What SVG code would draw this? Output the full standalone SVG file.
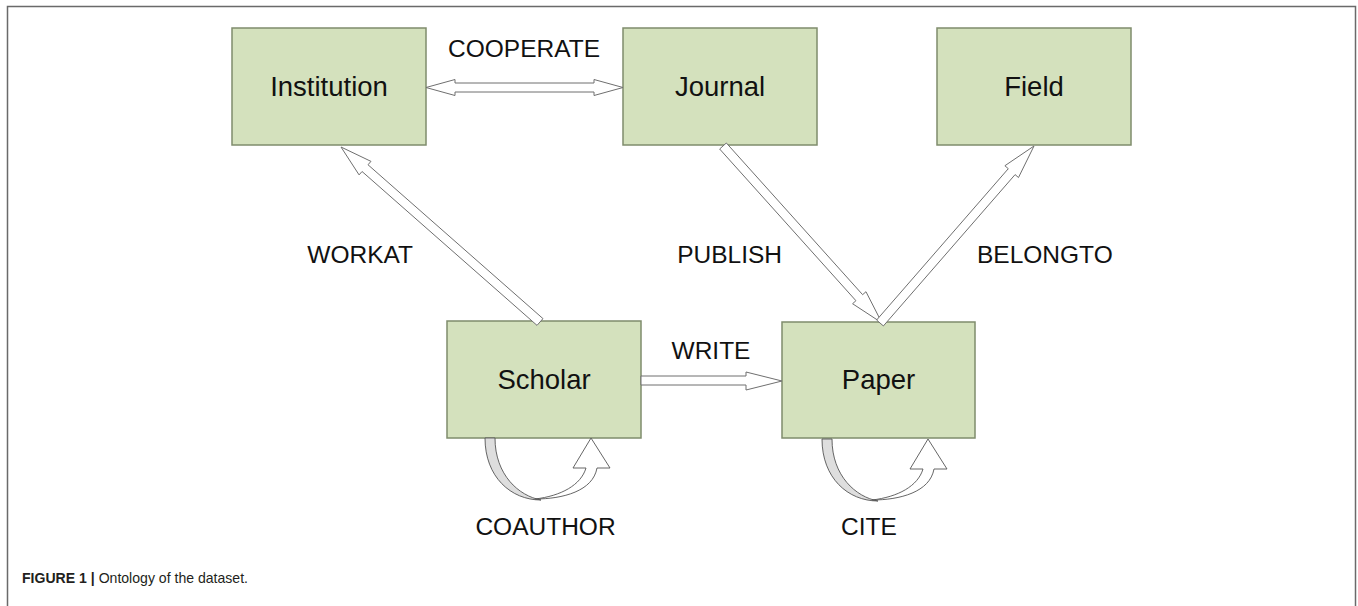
<svg xmlns="http://www.w3.org/2000/svg" width="1358" height="606" viewBox="0 0 1358 606">
<style>
.node rect{fill:#d4e1bd;stroke:#7f8c6c;stroke-width:1.5}
.node text{font-family:"Liberation Sans",Arial,sans-serif;font-size:27.5px;fill:#111;text-anchor:middle}
.lbl{font-family:"Liberation Sans",Arial,sans-serif;font-size:24.5px;fill:#111}
.arr{fill:#fff;stroke:#6f6f6f;stroke-width:1}
.back{fill:#dedede;stroke:#555;stroke-width:0.9}
.front{fill:#fff;stroke:#555;stroke-width:0.9}
</style>
<rect x="7.5" y="6.5" width="1348" height="640" fill="#fff" stroke="#6a6a6a" stroke-width="1.5"/>
<g id="Institution" class="node"><rect x="232" y="28" width="194" height="117"/><text x="329" y="96">Institution</text></g>
<g id="Journal" class="node"><rect x="623" y="28" width="194" height="117"/><text x="720" y="96">Journal</text></g>
<g id="Field" class="node"><rect x="937" y="28" width="194" height="117"/><text x="1034" y="96">Field</text></g>
<g id="Scholar" class="node"><rect x="447" y="321" width="194" height="117"/><text x="544" y="389">Scholar</text></g>
<g id="Paper" class="node"><rect x="782" y="322" width="193" height="116"/><text x="878.5" y="389">Paper</text></g>
<g id="connectors">
<polygon class="arr" points="426,87.5 455,79.5 455,83 594,83 594,79.5 623,87.5 594,95.5 594,92 455,92 455,95.5"/>
<polygon class="arr" points="641,376 746,376 746,372 782,381 746,390 746,385 641,385"/>
<polygon class="arr" points="542.97,318.62 368.00,164.75 370.97,161.37 341,147 359.09,174.89 362.06,171.51 537.03,325.38"/>
<polygon class="arr" points="726.35,142.99 862.63,294.69 865.98,291.69 882,323 852.58,303.72 855.93,300.71 719.65,149.01"/>
<polygon class="arr" points="876.60,320.05 1008.29,168.70 1004.89,165.74 1034,146 1018.47,177.56 1015.08,174.60 883.40,325.95"/>
<g id="cite-loop">
<path class="back" d="M822,439 C822,478 848,501 878,501 C856,497 832,476 832,439 Z"/>
<path class="front" d="M872,500 C900,500 930,492 934,469 L947,469 L928,439 L910,469 L923,469 C918,486 898,497 872,500 Z"/>
</g>
<g id="coauthor-loop" transform="translate(-337,-1)">
<path class="back" d="M822,439 C822,478 848,501 878,501 C856,497 832,476 832,439 Z"/>
<path class="front" d="M872,500 C900,500 930,492 934,469 L947,469 L928,439 L910,469 L923,469 C918,486 898,497 872,500 Z"/>
</g>
</g>
<g id="labels">
<text class="lbl" x="524" y="57" text-anchor="middle">COOPERATE</text>
<text class="lbl" x="413" y="263" text-anchor="end">WORKAT</text>
<text class="lbl" x="782" y="263" text-anchor="end">PUBLISH</text>
<text class="lbl" x="977" y="263">BELONGTO</text>
<text class="lbl" x="711" y="359" text-anchor="middle">WRITE</text>
<text class="lbl" x="545.5" y="535" text-anchor="middle">COAUTHOR</text>
<text class="lbl" x="869" y="535" text-anchor="middle">CITE</text>
</g>
<text x="22" y="583" font-family="'Liberation Sans',Arial,sans-serif" font-size="15" fill="#231f20" textLength="226" lengthAdjust="spacingAndGlyphs"><tspan font-weight="bold">FIGURE 1 | </tspan>Ontology of the dataset.</text>
</svg>
